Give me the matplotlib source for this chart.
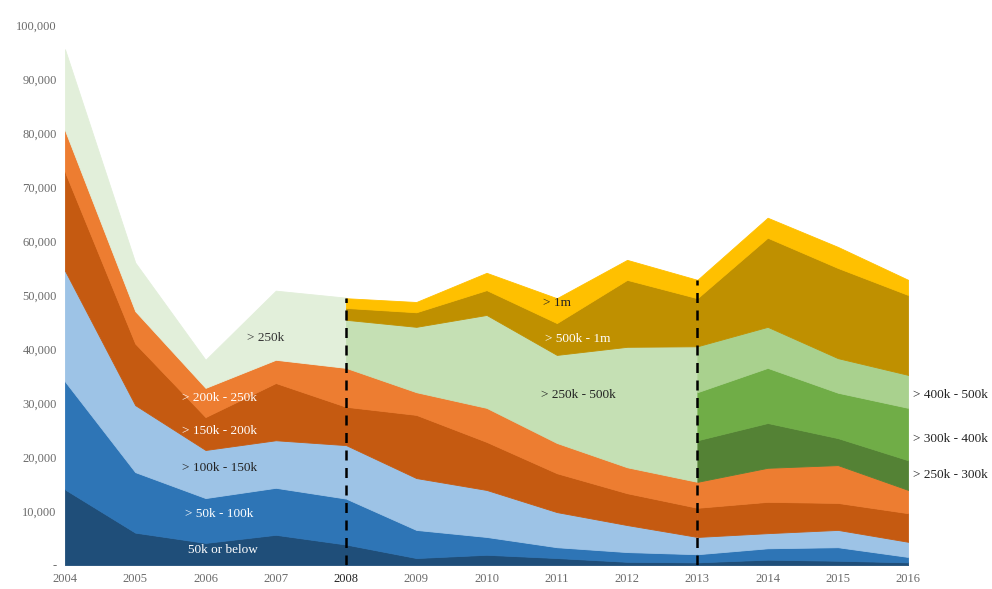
import matplotlib.pyplot as plt
import numpy as np
from matplotlib.ticker import FuncFormatter

# Anos e valores (número de transações por faixa de preço)
anos = list(range(2004, 2017))

# Faixas comuns a todo o período (2004-2016)
ate_50k = [14000, 6000, 4100, 5600, 3800, 1300, 1900, 1300, 600, 500, 1000, 800, 500]
de_50_100 = [20000, 11200, 8300, 8700, 8500, 5200, 3300, 2000, 1800, 1500, 2100, 2500, 1000]
de_100_150 = [20500, 12400, 8900, 8800, 9900, 9600, 8700, 6500, 5000, 3200, 2800, 3200, 2800]
de_150_200 = [18300, 11400, 6100, 10600, 7100, 11700, 8900, 7200, 5900, 5400, 5800, 5000, 5300]
de_200_250 = [7700, 6000, 5400, 4300, 7200, 4200, 6300, 5600, 4800, 4800, 6300, 7000, 4300]

# 2004-2008: tudo acima de 250k junto
acima_250k = [15000, 9000, 5200, 12800, 13000]

# 2008-2013
de_250_500 = [8900, 12100, 17200, 16300, 22300, 25100]
de_500_1m_a = [2200, 2700, 4600, 5900, 12400, 8900]
acima_1m_a = [1800, 1900, 3200, 4600, 3700, 3400]

# 2013-2016
de_250_300 = [7700, 8300, 5000, 5500]
de_300_400 = [8900, 10200, 8400, 9700]
de_400_500 = [8500, 7600, 6400, 6100]
de_500_1m_b = [8900, 16500, 16700, 14800]
acima_1m_b = [3400, 3700, 3900, 2800]

cores = {
    "ate50": "#1f4e79",
    "50_100": "#2e75b6",
    "100_150": "#9dc3e6",
    "150_200": "#c55a11",
    "200_250": "#ed7d31",
    "250": "#e2efda",
    "250_500": "#c5e0b4",
    "500_1m": "#bf9000",
    "1m": "#ffc000",
    "250_300": "#548235",
    "300_400": "#70ad47",
    "400_500": "#a9d18e",
}

base = [ate_50k, de_50_100, de_100_150, de_150_200, de_200_250]
cores_base = [cores["ate50"], cores["50_100"], cores["100_150"], cores["150_200"], cores["200_250"]]

fonte = "Liberation Serif"

fig = plt.figure(figsize=(9.92, 5.89), dpi=100)
ax = fig.add_axes([0.0655, 0.0407, 0.85, 0.917])


def empilhar(i0, i1, extras, cores_extras):
    # Desenha um trecho do gráfico empilhado entre os anos i0 e i1
    x = anos[i0:i1 + 1]
    series = [s[i0:i1 + 1] for s in base] + extras
    cs = cores_base + cores_extras
    polys = ax.stackplot(x, *series, colors=cs, linewidth=0.6)
    for p, c in zip(polys, cs):
        p.set_edgecolor(c)


empilhar(0, 4, [acima_250k], [cores["250"]])
empilhar(4, 9, [de_250_500, de_500_1m_a, acima_1m_a],
         [cores["250_500"], cores["500_1m"], cores["1m"]])
empilhar(9, 12, [de_250_300, de_300_400, de_400_500, de_500_1m_b, acima_1m_b],
         [cores["250_300"], cores["300_400"], cores["400_500"], cores["500_1m"], cores["1m"]])

# Linhas tracejadas nas mudanças de faixa
total_2008 = sum(s[4] for s in base) + acima_250k[4]
total_2013 = sum(s[9] for s in base) + de_250_300[0] + de_300_400[0] + de_400_500[0] + de_500_1m_b[0] + acima_1m_b[0]
ax.plot([2008, 2008], [0, total_2008], color="black", ls=(0, (4, 3)), lw=1.8)
ax.plot([2013, 2013], [0, total_2013], color="black", ls=(0, (4, 3)), lw=1.8)

# Rótulos das faixas
rotulos = [
    (2006.85, 42000, "> 250k", "#333333", "center"),
    (2006.2, 31000, "> 200k - 250k", "white", "center"),
    (2006.2, 24800, "> 150k - 200k", "white", "center"),
    (2006.2, 18000, "> 100k - 150k", "#222222", "center"),
    (2006.2, 9400, "> 50k - 100k", "white", "center"),
    (2006.25, 2800, "50k or below", "white", "center"),
    (2011.0, 48500, "> 1m", "#222222", "center"),
    (2011.3, 41800, "> 500k - 1m", "white", "center"),
    (2011.3, 31500, "> 250k - 500k", "#222222", "center"),
    (2016.07, 31500, "> 400k - 500k", "#222222", "left"),
    (2016.07, 23300, "> 300k - 400k", "#222222", "left"),
    (2016.07, 16700, "> 250k - 300k", "#222222", "left"),
]
for x, y, txt, cor, ha in rotulos:
    ax.text(x, y, txt, color=cor, ha=ha, va="center", fontsize=9.5, family=fonte)

ax.set_xlim(2004, 2016)
ax.set_ylim(0, 100000)
ax.set_xticks(anos)
ax.set_yticks(np.arange(0, 100001, 10000))
ax.yaxis.set_major_formatter(FuncFormatter(lambda v, p: "-" if v == 0 else f"{int(v):,}"))
ax.tick_params(length=0, labelsize=9, colors="#6b6b6b", pad=6)
for lab in ax.get_xticklabels() + ax.get_yticklabels():
    lab.set_family(fonte)
ax.get_xticklabels()[4].set_color("#222222")
for s in ax.spines.values():
    s.set_visible(False)

fig.savefig("out.png", dpi=100)
